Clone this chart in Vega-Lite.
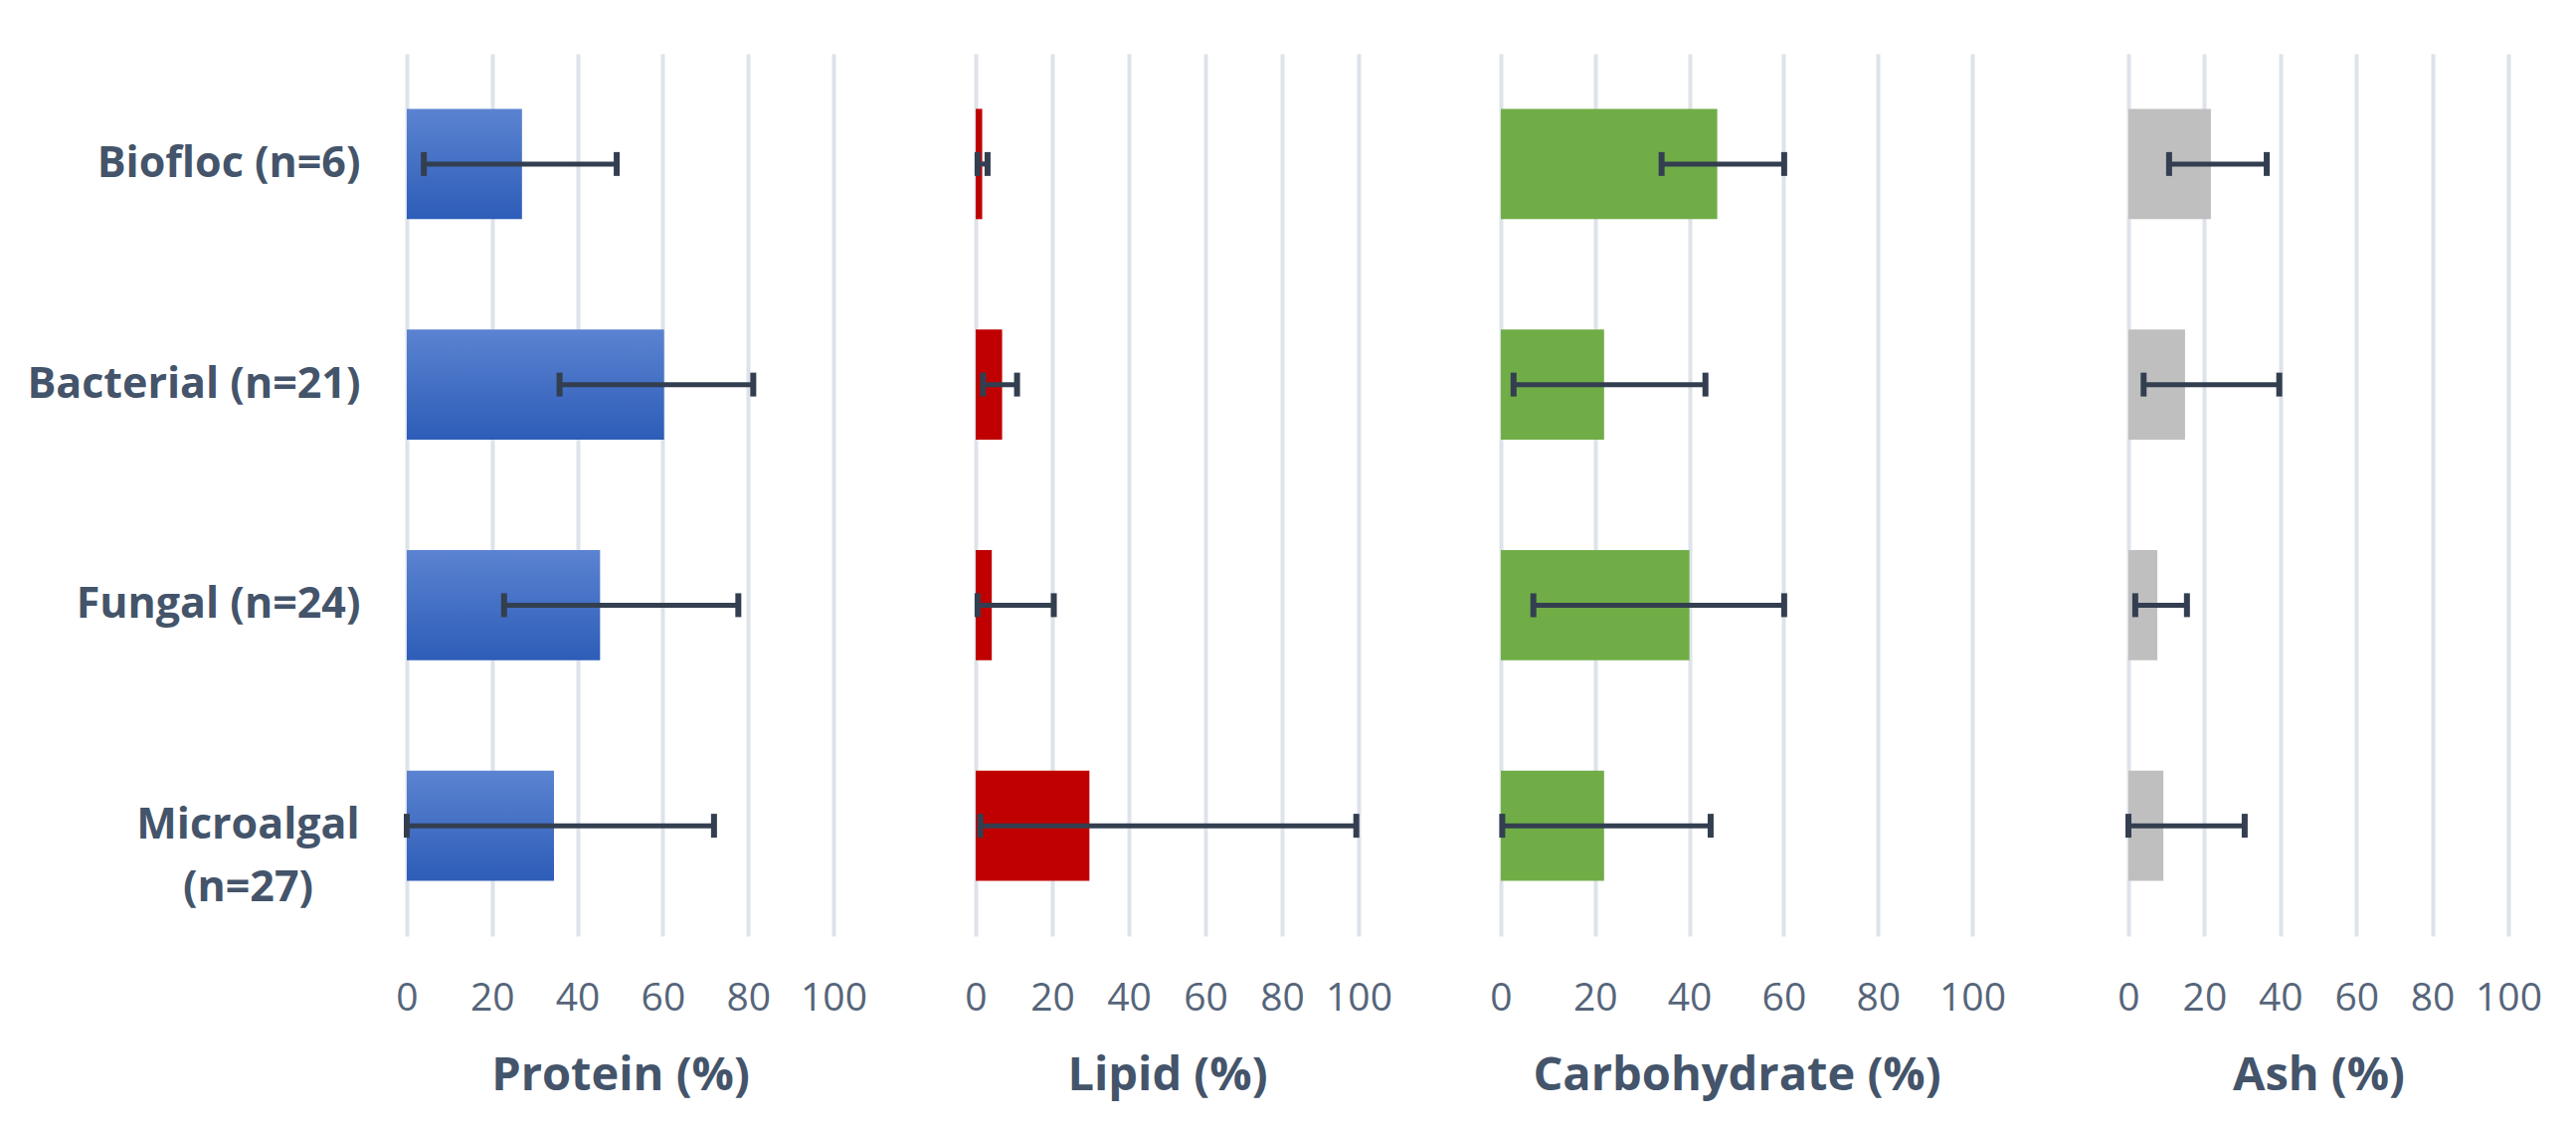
{
  "$schema": "https://vega.github.io/schema/vega-lite/v6.json",
  "background": "white",
  "padding": {"left": 26, "top": 54, "right": 10, "bottom": 10},
  "datasets": {
    "comp": [
      {"type": "Biofloc (n=6)", "nutrient": "Protein", "mean": 27.0, "lo": 4.0, "hi": 49.2},
      {"type": "Bacterial (n=21)", "nutrient": "Protein", "mean": 60.3, "lo": 35.8, "hi": 81.2},
      {"type": "Fungal (n=24)", "nutrient": "Protein", "mean": 45.3, "lo": 22.8, "hi": 77.7},
      {"type": "Microalgal (n=27)", "nutrient": "Protein", "mean": 34.5, "lo": 0.0, "hi": 72.0},
      {"type": "Biofloc (n=6)", "nutrient": "Lipid", "mean": 1.7, "lo": 0.5, "hi": 3.1},
      {"type": "Bacterial (n=21)", "nutrient": "Lipid", "mean": 6.9, "lo": 1.9, "hi": 10.8},
      {"type": "Fungal (n=24)", "nutrient": "Lipid", "mean": 4.2, "lo": 0.5, "hi": 20.4},
      {"type": "Microalgal (n=27)", "nutrient": "Lipid", "mean": 29.7, "lo": 1.2, "hi": 99.4},
      {"type": "Biofloc (n=6)", "nutrient": "Carbohydrate", "mean": 45.9, "lo": 34.1, "hi": 60.1},
      {"type": "Bacterial (n=21)", "nutrient": "Carbohydrate", "mean": 21.9, "lo": 2.7, "hi": 43.4},
      {"type": "Fungal (n=24)", "nutrient": "Carbohydrate", "mean": 40.0, "lo": 6.9, "hi": 60.1},
      {"type": "Microalgal (n=27)", "nutrient": "Carbohydrate", "mean": 21.9, "lo": 0.3, "hi": 44.5},
      {"type": "Biofloc (n=6)", "nutrient": "Ash", "mean": 21.7, "lo": 10.7, "hi": 36.4},
      {"type": "Bacterial (n=21)", "nutrient": "Ash", "mean": 14.9, "lo": 4.0, "hi": 39.7},
      {"type": "Fungal (n=24)", "nutrient": "Ash", "mean": 7.6, "lo": 1.8, "hi": 15.4},
      {"type": "Microalgal (n=27)", "nutrient": "Ash", "mean": 9.2, "lo": 0.0, "hi": 30.6}
    ]
  },
  "data": {"name": "comp"},
  "spacing": 68,
  "bounds": "full",
  "hconcat": [
    {
      "width": 429, "height": 887,
      "transform": [{"filter": "datum.nutrient == 'Protein'"}],
      "encoding": {
        "y": {
          "field": "type", "type": "nominal",
          "sort": ["Biofloc (n=6)", "Bacterial (n=21)", "Fungal (n=24)", "Microalgal (n=27)"],
          "scale": {"paddingInner": 0.5, "paddingOuter": 0.25},
          "axis": {
            "title": null, "domain": false, "ticks": false, "grid": false,
            "labelFontSize": 43, "labelFontWeight": "bold", "labelColor": "#44546A",
            "labelLimit": 0, "labelLineHeight": 63, "labelBaseline": "middle",
            "labelExpr": "datum.value == 'Microalgal (n=27)' ? ['Microalgal', '(n=27)'] : datum.value",
            "labelAlign": {"condition": {"test": "datum.value == 'Microalgal (n=27)'", "value": "center"}, "value": "right"},
            "labelPadding": {"condition": {"test": "datum.value == 'Microalgal (n=27)'", "value": 160}, "value": 47}
          }
        }
      },
      "layer": [
        {"mark": {"type": "bar", "color": {"gradient": "linear", "x1": 0, "y1": 0, "x2": 0, "y2": 1, "stops": [{"offset": 0, "color": "#5B83D1"}, {"offset": 1, "color": "#2D5DB8"}]}},
         "encoding": {"x": {"field": "mean", "type": "quantitative", "scale": {"domain": [0, 100], "nice": false, "zero": true}, "axis": {"title": "Protein (%)", "values": [0, 20, 40, 60, 80, 100]}}}},
        {"mark": {"type": "rule", "color": "#333F50", "strokeWidth": 5},
         "encoding": {"x": {"field": "lo", "type": "quantitative", "scale": {"domain": [0, 100], "nice": false, "zero": true}, "axis": {"title": "Protein (%)", "values": [0, 20, 40, 60, 80, 100]}}, "x2": {"field": "hi"}}},
        {"mark": {"type": "tick", "color": "#333F50", "thickness": 6, "size": 24, "opacity": 1},
         "encoding": {"x": {"field": "lo", "type": "quantitative", "scale": {"domain": [0, 100], "nice": false, "zero": true}, "axis": {"title": "Protein (%)", "values": [0, 20, 40, 60, 80, 100]}}}},
        {"mark": {"type": "tick", "color": "#333F50", "thickness": 6, "size": 24, "opacity": 1},
         "encoding": {"x": {"field": "hi", "type": "quantitative", "scale": {"domain": [0, 100], "nice": false, "zero": true}, "axis": {"title": "Protein (%)", "values": [0, 20, 40, 60, 80, 100]}}}}
      ]
    },
    {
      "width": 385, "height": 887,
      "transform": [{"filter": "datum.nutrient == 'Lipid'"}],
      "encoding": {
        "y": {
          "field": "type", "type": "nominal",
          "sort": ["Biofloc (n=6)", "Bacterial (n=21)", "Fungal (n=24)", "Microalgal (n=27)"],
          "scale": {"paddingInner": 0.5, "paddingOuter": 0.25},
          "axis": {"title": null, "labels": false, "domain": false, "grid": false, "ticks": true, "tickSize": 40, "tickColor": "transparent"}
        }
      },
      "layer": [
        {"mark": {"type": "bar", "color": "#C00000"},
         "encoding": {"x": {"field": "mean", "type": "quantitative", "scale": {"domain": [0, 100], "nice": false, "zero": true}, "axis": {"title": "Lipid (%)", "values": [0, 20, 40, 60, 80, 100]}}}},
        {"mark": {"type": "rule", "color": "#333F50", "strokeWidth": 5},
         "encoding": {"x": {"field": "lo", "type": "quantitative", "scale": {"domain": [0, 100], "nice": false, "zero": true}, "axis": {"title": "Lipid (%)", "values": [0, 20, 40, 60, 80, 100]}}, "x2": {"field": "hi"}}},
        {"mark": {"type": "tick", "color": "#333F50", "thickness": 6, "size": 24, "opacity": 1},
         "encoding": {"x": {"field": "lo", "type": "quantitative", "scale": {"domain": [0, 100], "nice": false, "zero": true}, "axis": {"title": "Lipid (%)", "values": [0, 20, 40, 60, 80, 100]}}}},
        {"mark": {"type": "tick", "color": "#333F50", "thickness": 6, "size": 24, "opacity": 1},
         "encoding": {"x": {"field": "hi", "type": "quantitative", "scale": {"domain": [0, 100], "nice": false, "zero": true}, "axis": {"title": "Lipid (%)", "values": [0, 20, 40, 60, 80, 100]}}}}
      ]
    },
    {
      "width": 474, "height": 887,
      "transform": [{"filter": "datum.nutrient == 'Carbohydrate'"}],
      "encoding": {
        "y": {
          "field": "type", "type": "nominal",
          "sort": ["Biofloc (n=6)", "Bacterial (n=21)", "Fungal (n=24)", "Microalgal (n=27)"],
          "scale": {"paddingInner": 0.5, "paddingOuter": 0.25},
          "axis": {"title": null, "labels": false, "domain": false, "grid": false, "ticks": true, "tickSize": 40, "tickColor": "transparent"}
        }
      },
      "layer": [
        {"mark": {"type": "bar", "color": "#70AD47"},
         "encoding": {"x": {"field": "mean", "type": "quantitative", "scale": {"domain": [0, 100], "nice": false, "zero": true}, "axis": {"title": "Carbohydrate (%)", "values": [0, 20, 40, 60, 80, 100]}}}},
        {"mark": {"type": "rule", "color": "#333F50", "strokeWidth": 5},
         "encoding": {"x": {"field": "lo", "type": "quantitative", "scale": {"domain": [0, 100], "nice": false, "zero": true}, "axis": {"title": "Carbohydrate (%)", "values": [0, 20, 40, 60, 80, 100]}}, "x2": {"field": "hi"}}},
        {"mark": {"type": "tick", "color": "#333F50", "thickness": 6, "size": 24, "opacity": 1},
         "encoding": {"x": {"field": "lo", "type": "quantitative", "scale": {"domain": [0, 100], "nice": false, "zero": true}, "axis": {"title": "Carbohydrate (%)", "values": [0, 20, 40, 60, 80, 100]}}}},
        {"mark": {"type": "tick", "color": "#333F50", "thickness": 6, "size": 24, "opacity": 1},
         "encoding": {"x": {"field": "hi", "type": "quantitative", "scale": {"domain": [0, 100], "nice": false, "zero": true}, "axis": {"title": "Carbohydrate (%)", "values": [0, 20, 40, 60, 80, 100]}}}}
      ]
    },
    {
      "width": 382, "height": 887,
      "transform": [{"filter": "datum.nutrient == 'Ash'"}],
      "encoding": {
        "y": {
          "field": "type", "type": "nominal",
          "sort": ["Biofloc (n=6)", "Bacterial (n=21)", "Fungal (n=24)", "Microalgal (n=27)"],
          "scale": {"paddingInner": 0.5, "paddingOuter": 0.25},
          "axis": {"title": null, "labels": false, "domain": false, "grid": false, "ticks": true, "tickSize": 54, "tickColor": "transparent"}
        }
      },
      "layer": [
        {"mark": {"type": "bar", "color": "#BFBFBF"},
         "encoding": {"x": {"field": "mean", "type": "quantitative", "scale": {"domain": [0, 100], "nice": false, "zero": true}, "axis": {"title": "Ash (%)", "values": [0, 20, 40, 60, 80, 100]}}}},
        {"mark": {"type": "rule", "color": "#333F50", "strokeWidth": 5},
         "encoding": {"x": {"field": "lo", "type": "quantitative", "scale": {"domain": [0, 100], "nice": false, "zero": true}, "axis": {"title": "Ash (%)", "values": [0, 20, 40, 60, 80, 100]}}, "x2": {"field": "hi"}}},
        {"mark": {"type": "tick", "color": "#333F50", "thickness": 6, "size": 24, "opacity": 1},
         "encoding": {"x": {"field": "lo", "type": "quantitative", "scale": {"domain": [0, 100], "nice": false, "zero": true}, "axis": {"title": "Ash (%)", "values": [0, 20, 40, 60, 80, 100]}}}},
        {"mark": {"type": "tick", "color": "#333F50", "thickness": 6, "size": 24, "opacity": 1},
         "encoding": {"x": {"field": "hi", "type": "quantitative", "scale": {"domain": [0, 100], "nice": false, "zero": true}, "axis": {"title": "Ash (%)", "values": [0, 20, 40, 60, 80, 100]}}}}
      ]
    }
  ],
  "config": {
    "font": "Open Sans",
    "view": {"stroke": null},
    "axisX": {
      "grid": true, "gridColor": "#DEE3EA", "gridWidth": 4,
      "domain": false, "ticks": false, "labelOverlap": false, "labelFlush": false,
      "labelFontSize": 39, "labelColor": "#56657A", "labelPadding": 43, "labelFontWeight": "normal",
      "titleFontSize": 47, "titleFontWeight": "bold", "titleColor": "#44546A", "titlePadding": 35
    }
  }
}
